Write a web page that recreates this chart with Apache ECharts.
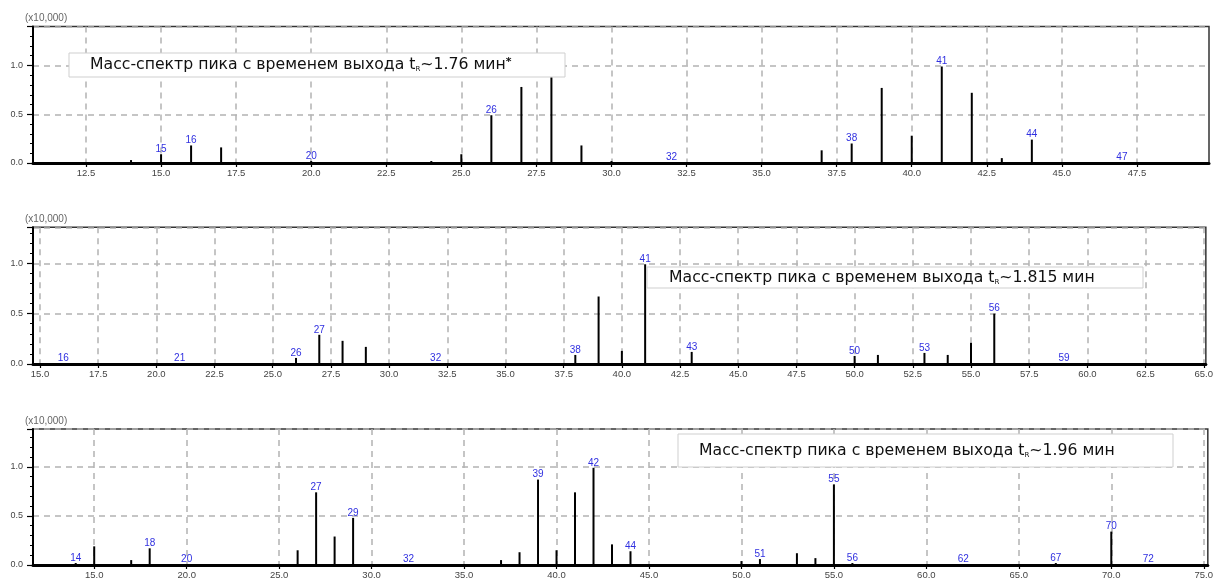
<!DOCTYPE html>
<html>
<head>
<meta charset="utf-8">
<script src="https://cdn.jsdelivr.net/npm/echarts@6/dist/echarts.min.js"></script>
<style>
  html, body { margin: 0; padding: 0; background: #fff; }
  #chart { width: 1216px; height: 580px; }
</style>
</head>
<body>
<div id="chart"></div>
<script>
// Spectrum 1: tR ~ 1.76 min
const mz1  = [14, 15, 16, 17, 20, 24, 25, 26, 27, 28, 29, 30, 32, 37, 38, 39, 40, 41, 42, 43, 44, 47];
const int1 = [0.03, 0.09, 0.18, 0.16, 0.02, 0.02, 0.09, 0.49, 0.78, 0.88, 0.18, 0.02, 0.01, 0.13, 0.20, 0.77, 0.28, 0.99, 0.72, 0.05, 0.24, 0.01];
const lab1 = [15, 16, 20, 26, 28, 32, 38, 41, 44, 47];

// Spectrum 2: tR ~ 1.815 min
const mz2  = [16, 21, 26, 27, 28, 29, 32, 37, 38, 39, 40, 41, 43, 49, 50, 51, 52, 53, 54, 55, 56, 57, 59];
const int2 = [0.01, 0.01, 0.06, 0.29, 0.23, 0.17, 0.01, 0.01, 0.09, 0.67, 0.13, 0.99, 0.12, 0.01, 0.08, 0.09, 0.01, 0.11, 0.09, 0.21, 0.50, 0.01, 0.01];
const lab2 = [16, 21, 26, 27, 32, 38, 41, 43, 50, 53, 56, 59];

// Spectrum 3: tR ~ 1.96 min
const mz3  = [14, 15, 17, 18, 20, 26, 27, 28, 29, 32, 37, 38, 39, 40, 41, 42, 43, 44, 50, 51, 52, 53, 54, 55, 56, 62, 67, 69, 70, 72];
const int3 = [0.02, 0.19, 0.05, 0.17, 0.01, 0.15, 0.74, 0.29, 0.48, 0.01, 0.05, 0.13, 0.87, 0.15, 0.74, 0.99, 0.21, 0.14, 0.04, 0.06, 0.01, 0.12, 0.07, 0.82, 0.02, 0.01, 0.02, 0.01, 0.34, 0.01];
const lab3 = [14, 18, 20, 27, 29, 32, 39, 42, 44, 51, 55, 56, 62, 67, 70, 72];

// Axis ticks
const xTicks1 = [12.5, 15, 17.5, 20, 22.5, 25, 27.5, 30, 32.5, 35, 37.5, 40, 42.5, 45, 47.5];
const xTicks2 = [15, 17.5, 20, 22.5, 25, 27.5, 30, 32.5, 35, 37.5, 40, 42.5, 45, 47.5, 50, 52.5, 55, 57.5, 60, 62.5, 65];
const xTicks3 = [15, 20, 25, 30, 35, 40, 45, 50, 55, 60, 65, 70, 75];
const yLabels = [0, 0.5, 1.0];
const yMinor = [0.1, 0.2, 0.3, 0.4, 0.6, 0.7, 0.8, 0.9, 1.1, 1.2, 1.3];

// Caption times
const times = ['1.76', '1.815', '1.96'];
const marks = ['*', '', ''];

const spectra = [
  { mz: mz1, intensity: int1, labeled: lab1, ticks: xTicks1 },
  { mz: mz2, intensity: int2, labeled: lab2, ticks: xTicks2 },
  { mz: mz3, intensity: int3, labeled: lab3, ticks: xTicks3 }
];

// Layout of the three stacked panels
const layout = [
  { top: 26.5, height: 136.5, xMin: 10.735, xMax: 49.9,  yMax: 1.40,  box: { x: 69,  y: 53,  w: 496, h: 24 }, textX: 90 },
  { top: 227.3, height: 136.7, xMin: 14.7,  xMax: 65.09, yMax: 1.357, box: { x: 647, y: 267, w: 496, h: 21 }, textX: 669 },
  { top: 429,  height: 136.7, xMin: 11.69, xMax: 75.22, yMax: 1.385, box: { x: 678, y: 434, w: 495, h: 33 }, textX: 699 }
];

const dashed = { type: [6, 5], color: '#b2b2b2', width: 1.5 };
const grid = [], xAxis = [], yAxis = [], series = [], graphic = [];

layout.forEach((L, i) => {
  const S = spectra[i];
  grid.push({
    left: 33, right: 7, top: L.top, height: L.height,
    show: true, borderColor: '#333', borderWidth: 1.5, backgroundColor: 'transparent'
  });
  xAxis.push({
    gridIndex: i, type: 'value', min: L.xMin, max: L.xMax,
    axisLine: { onZero: false, lineStyle: { color: '#000', width: 3 } },
    axisTick: { customValues: S.ticks, length: 4, lineStyle: { color: '#000', width: 1.2 } },
    axisLabel: { customValues: S.ticks, formatter: v => v.toFixed(1), fontSize: 9.5, color: '#444', margin: 5 },
    splitLine: { show: true, lineStyle: dashed }
  });
  // main value axis with labels and grid lines
  yAxis.push({
    gridIndex: i, type: 'value', min: 0, max: L.yMax, interval: 0.5, position: 'left',
    name: '(x10,000)', nameLocation: 'end', nameGap: 3,
    nameTextStyle: { fontSize: 10, color: '#666', align: 'left', padding: [0, 0, 0, -8] },
    axisLine: { show: true, lineStyle: { color: '#000', width: 2 } },
    axisTick: { show: true, length: 6, lineStyle: { color: '#000', width: 1.2 } },
    axisLabel: { customValues: yLabels, formatter: v => v.toFixed(1), fontSize: 9, color: '#444', margin: 10 },
    splitLine: { show: true, lineStyle: dashed }
  });
  // minor ticks
  yAxis.push({
    gridIndex: i, type: 'value', min: 0, max: L.yMax, position: 'left',
    axisLine: { show: false },
    axisTick: { show: true, customValues: yMinor, length: 3, lineStyle: { color: '#000', width: 1 } },
    axisLabel: { show: false },
    splitLine: { show: false }
  });
  series.push({
    type: 'bar', xAxisIndex: i, yAxisIndex: 2 * i, z: 2,
    barWidth: 2, itemStyle: { color: '#000' },
    label: {
      show: false, position: 'top', distance: 0,
      fontSize: 10, lineHeight: 10, color: '#3030e0', fontFamily: 'Liberation Sans',
      formatter: p => String(p.value[0])
    },
    data: S.mz.map((m, k) => ({
      value: [m, S.intensity[k]],
      label: { show: S.labeled.includes(m) }
    })),
    animation: false
  });
  // caption box drawn above the peaks and their labels
  graphic.push(
    {
      type: 'rect', z: 100, zlevel: 1,
      shape: { x: L.box.x, y: L.box.y, width: L.box.w, height: L.box.h },
      style: { fill: '#fff', stroke: '#cfcfcf', lineWidth: 1 }
    },
    {
      type: 'text', z: 101, zlevel: 1, x: L.textX, y: L.box.y + L.box.h / 2,
      style: {
        text: 'Масс-спектр пика с временем выхода t{sub|R}~' + times[i] + ' мин' + (marks[i] ? '{sup|' + marks[i] + '}' : ''),
        fontFamily: 'DejaVu Sans', fontSize: 15.7, fill: '#111',
        verticalAlign: 'middle',
        rich: {
          sub: { fontFamily: 'DejaVu Sans', fontSize: 7, fill: '#111', verticalAlign: 'bottom' },
          sup: { fontFamily: 'DejaVu Sans', fontSize: 11, fontWeight: 'bold', fill: '#111', verticalAlign: 'top' }
        }
      }
    }
  );
});

const chart = echarts.init(document.getElementById('chart'), null, { renderer: 'canvas' });
chart.setOption({
  animation: false,
  backgroundColor: '#fff',
  textStyle: { fontFamily: 'Liberation Sans' },
  grid, xAxis, yAxis, series, graphic
});
</script>
</body>
</html>
